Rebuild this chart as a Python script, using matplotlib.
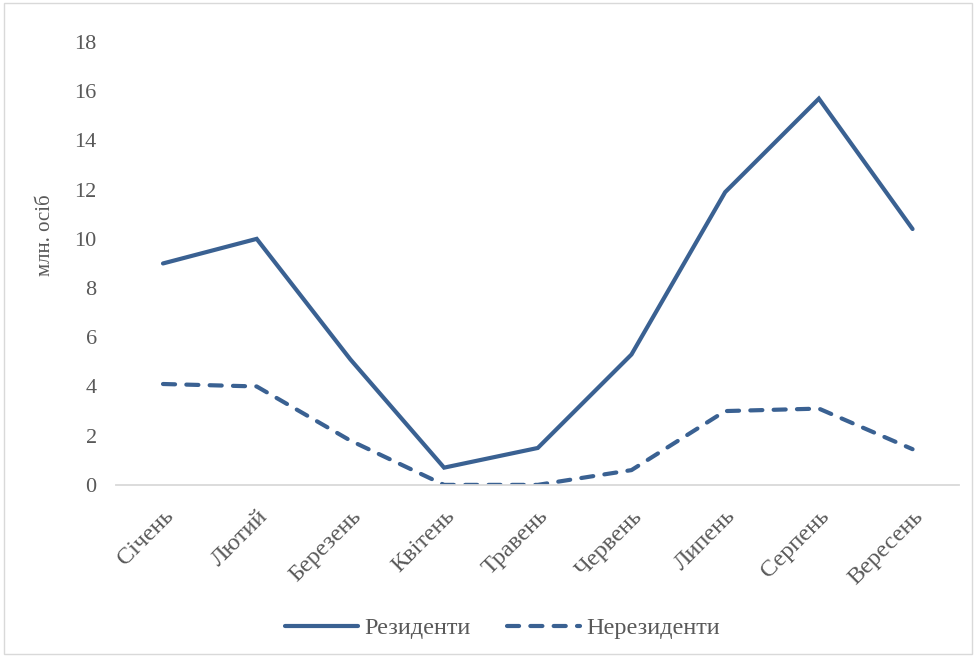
import matplotlib
matplotlib.use('Agg')
import matplotlib.pyplot as plt
from matplotlib.patches import Rectangle

months = ['Січень', 'Лютий', 'Березень', 'Квітень', 'Травень',
          'Червень', 'Липень', 'Серпень', 'Вересень']
residents = [9.0, 10.0, 5.1, 0.7, 1.5, 5.3, 11.9, 15.7, 10.4]
nonresidents = [4.1, 4.0, 1.8, 0.0, 0.0, 0.6, 3.0, 3.1, 1.45]

plt.rcParams['font.family'] = ['Liberation Serif', 'DejaVu Serif']
line_color = '#3A6192'
text_color = '#595959'

fig = plt.figure(figsize=(9.76, 6.57), dpi=100)
ax = fig.add_axes([0.119, 0.262, 0.864, 0.674])

x = range(len(months))
ax.plot(x, residents, color=line_color, lw=3.0, solid_capstyle='round',
        solid_joinstyle='miter', label='Резиденти')
ax.plot(x, nonresidents, color=line_color, lw=3.0, dashes=(2.9, 2.7),
        dash_capstyle='round', label='Нерезиденти')

ax.set_xlim(-0.5, len(months) - 0.5)
ax.set_ylim(0, 18)
ax.set_yticks(range(0, 19, 2))
ax.set_xticks(list(x))
ax.set_xticklabels(months, rotation=45, ha='right', rotation_mode='anchor')
ax.tick_params(axis='both', length=0, colors=text_color, labelsize=16)
ax.tick_params(axis='x', labelsize=17.5, pad=15)
ax.tick_params(axis='y', pad=14)
for s in ['top', 'right', 'left']:
    ax.spines[s].set_visible(False)
ax.spines['bottom'].set_color('#D9D9D9')
ax.spines['bottom'].set_linewidth(1.3)

ax.set_ylabel('млн. осіб', color=text_color, fontsize=15)
ax.yaxis.set_label_coords(-0.072, 0.564)

leg = fig.legend(loc='center', bbox_to_anchor=(0.515, 0.044), ncol=2,
                 frameon=False, fontsize=17.5, handlelength=3.0,
                 columnspacing=1.5, handletextpad=0.25)
for t in leg.get_texts():
    t.set_color(text_color)

fig.add_artist(Rectangle((0.004, 0.004), 0.992, 0.992, transform=fig.transFigure,
                         fill=False, edgecolor='#D9D9D9', lw=1))

fig.savefig('out.png', dpi=100)
